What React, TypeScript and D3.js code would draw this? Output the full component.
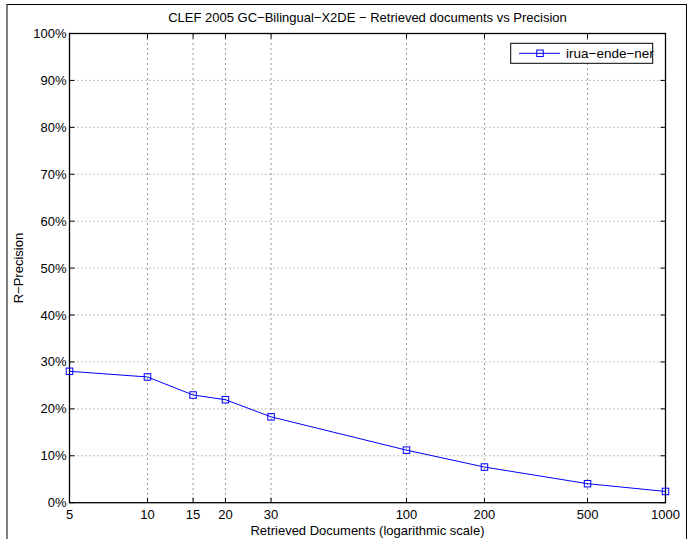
import React from "react";
import * as d3 from "d3";

const W = 691;
const H = 539;
const title = "CLEF 2005 GC\u2212Bilingual\u2212X2DE \u2212 Retrieved documents vs Precision";
const xLabel = "Retrieved Documents (logarithmic scale)";
const yLabel = "R\u2212Precision";
const seriesName = "irua\u2212ende\u2212ner";

const docs = [5, 10, 15, 20, 30, 100, 200, 500, 1000];
const precision = [0.28, 0.268, 0.2295, 0.2195, 0.183, 0.112, 0.076, 0.0405, 0.024];
const xTicks = [5, 10, 15, 20, 30, 100, 200, 500, 1000];
const yTicks = [0, 0.1, 0.2, 0.3, 0.4, 0.5, 0.6, 0.7, 0.8, 0.9, 1.0];

const FONT = "'Liberation Sans', Arial, Helvetica, sans-serif";

export default function App() {
  const left = 69.5, right = 665.5, top = 33.5, bottom = 502.7;
  const x = d3.scaleLog().domain([5, 1000]).range([left, right]);
  const y = d3.scaleLinear().domain([0, 1]).range([bottom, top]);
  const line = d3
    .line<number>()
    .x((_, i) => x(docs[i]))
    .y((d) => y(d));
  const ms = 6.5;
  const tick = 5;
  const fs = 13;

  return (
    <div style={{ position: "fixed", left: 0, top: 0 }}>
      <svg width={W} height={H} style={{ display: "block", background: "#fff" }} fontFamily={FONT}>
        <rect x={0} y={0} width={W} height={H} fill="#fff" />
        <rect x={7} y={4.5} width={679.5} height={560} fill="none" stroke="#000" strokeWidth={1} />
        <text x={(left + right) / 2} y={22} textAnchor="middle" fontSize={fs}>
          {title}
        </text>
        {/* grid */}
        {yTicks.slice(1, -1).map((t) => (
          <line key={"gy" + t} x1={left} x2={right} y1={y(t)} y2={y(t)} stroke="#888" strokeWidth={1} strokeDasharray="1,3" />
        ))}
        {xTicks.slice(1, -1).map((t) => (
          <line key={"gx" + t} x1={x(t)} x2={x(t)} y1={top} y2={bottom} stroke="#333" strokeWidth={1} strokeDasharray="1,4" />
        ))}
        {/* ticks */}
        {yTicks.map((t) => (
          <g key={"ty" + t}>
            <line x1={left} x2={left + tick} y1={y(t)} y2={y(t)} stroke="#000" />
            <line x1={right} x2={right - tick} y1={y(t)} y2={y(t)} stroke="#000" />
            <text x={left - 3} y={y(t)} dy="0.35em" textAnchor="end" fontSize={fs}>
              {Math.round(t * 100) + "%"}
            </text>
          </g>
        ))}
        {xTicks.map((t) => (
          <g key={"tx" + t}>
            <line x1={x(t)} x2={x(t)} y1={bottom} y2={bottom - tick} stroke="#000" />
            <line x1={x(t)} x2={x(t)} y1={top} y2={top + tick} stroke="#000" />
            <text x={x(t)} y={519} textAnchor="middle" fontSize={fs}>
              {t}
            </text>
          </g>
        ))}
        <rect x={left} y={top} width={right - left} height={bottom - top} fill="none" stroke="#000" strokeWidth={1.3} />
        <text x={(left + right) / 2} y={534.5} textAnchor="middle" fontSize={fs}>
          {xLabel}
        </text>
        <text transform={`translate(22.5,${(top + bottom) / 2}) rotate(-90)`} textAnchor="middle" fontSize={fs}>
          {yLabel}
        </text>
        {/* series */}
        <path d={line(precision) || ""} fill="none" stroke="#0000ff" strokeWidth={1} />
        {precision.map((p, i) => (
          <rect key={"m" + i} x={x(docs[i]) - ms / 2} y={y(p) - ms / 2} width={ms} height={ms} fill="none" stroke="#0000ff" strokeWidth={1} />
        ))}
        {/* legend */}
        <rect x={510.7} y={43.3} width={142} height={20} fill="#fff" stroke="#000" strokeWidth={1} />
        <line x1={519} x2={560} y1={53.3} y2={53.3} stroke="#0000ff" strokeWidth={1} />
        <rect x={540 - ms / 2} y={53.3 - ms / 2} width={ms} height={ms} fill="none" stroke="#0000ff" strokeWidth={1} />
        <text x={566} y={53.3} dy="0.35em" fontSize={13.5}>
          {seriesName}
        </text>
      </svg>
    </div>
  );
}
